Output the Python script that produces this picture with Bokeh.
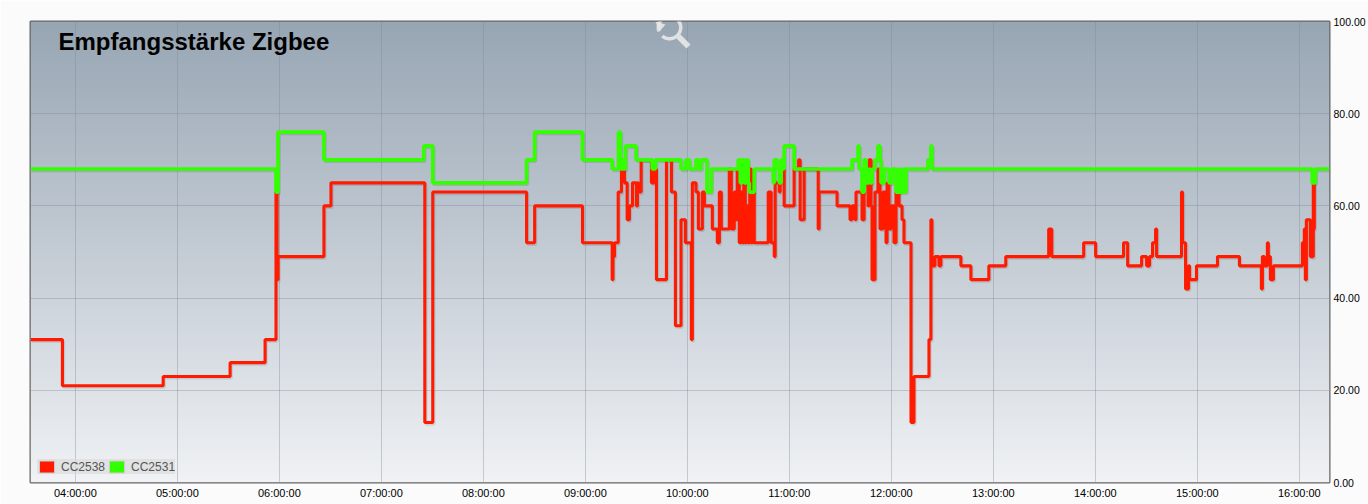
import numpy as np
from bokeh.embed import file_html
from bokeh.resources import INLINE
from bokeh.plotting import figure
from bokeh.models import (ColumnDataSource, FixedTicker, Label, Legend, LegendItem,
                          NumeralTickFormatter, PolyAnnotation, Range1d)
from bokeh.transform import dodge

TITLE = "Empfangsstärke Zigbee"
SERIES_A = "CC2538"
SERIES_B = "CC2531"

hour_ticks = list(range(4, 17))
hour_labels = ["%02d:00:00" % h for h in hour_ticks]
value_ticks = [0, 20, 40, 60, 80, 100]

t_red = [3.56, 3.873, 4.861, 5.517, 5.860, 5.967, 5.977, 5.987, 6.437, 6.506, 7.426, 7.504, 8.424, 8.503, 8.972,
         9.263, 9.271, 9.286, 9.295, 9.322, 9.354, 9.383, 9.410, 9.432, 9.462, 9.501, 9.511, 9.520, 9.547,
         9.648, 9.677, 9.697, 9.795, 9.844, 9.883, 9.938, 9.981, 10.039, 10.049, 10.085, 10.108, 10.147,
         10.167, 10.245, 10.294, 10.314, 10.333, 10.352, 10.411, 10.431, 10.460, 10.480, 10.489, 10.509,
         10.524, 10.539, 10.553, 10.568, 10.582, 10.597, 10.612, 10.627, 10.636, 10.656, 10.793, 10.822,
         10.852, 10.861, 10.901, 10.910, 10.949, 11.047, 11.091, 11.106, 11.145, 11.283, 11.292, 11.468,
         11.595, 11.615, 11.645, 11.654, 11.713, 11.733, 11.772, 11.781, 11.801, 11.811, 11.840, 11.869,
         11.889, 11.918, 11.948, 11.958, 11.977, 11.997, 12.026, 12.046, 12.075, 12.105, 12.124, 12.193,
         12.222, 12.369, 12.388, 12.398, 12.428, 12.467, 12.486, 12.682, 12.780, 12.956, 13.122, 13.543,
         13.573, 13.886, 14.003, 14.277, 14.317, 14.454, 14.503, 14.532, 14.561, 14.591, 14.601, 14.845,
         14.855, 14.885, 14.914, 14.924, 14.992, 15.198, 15.413, 15.628, 15.638, 15.657, 15.687, 15.696,
         15.716, 15.746, 16.030, 16.049, 16.059, 16.069, 16.108, 16.137, 16.147, 16.157]
v_red = [31, 21, 23, 26, 31, 63, 44, 49, 60, 65, 13, 63, 52, 60, 52,
         44, 49, 52, 52, 63, 68, 65, 57, 60, 65, 60, 65, 63, 70,
         65, 68, 44, 70, 63, 34, 57, 52, 31, 65, 63, 55, 63,
         60, 55, 52, 63, 55, 55, 68, 55, 63, 57, 68, 52,
         63, 52, 65, 52, 60, 52, 68, 52, 63, 52, 63, 52,
         49, 65, 63, 68, 60, 68, 70, 57, 68, 55, 63, 60,
         57, 60, 57, 63, 57, 65, 60, 70, 60, 44, 63, 68,
         55, 63, 52, 65, 55, 60, 52, 63, 60, 57, 52, 13,
         23, 31, 57, 47, 49, 47, 49, 47, 44, 47, 49, 55,
         49, 52, 49, 52, 47, 49, 47, 49, 52, 55, 49, 63,
         52, 42, 47, 44, 47, 49, 47, 42, 49, 47, 52, 49,
         44, 47, 52, 55, 44, 57, 49, 65, 55, 55]

t_green = [3.56, 5.967, 5.987, 6.437, 7.416, 7.504, 8.424, 8.503, 8.972, 9.263, 9.325, 9.344, 9.364, 9.374,
           9.393, 9.498, 9.655, 9.687, 9.938, 9.987, 10.020, 10.085, 10.108, 10.134, 10.193, 10.235, 10.499,
           10.519, 10.539, 10.558, 10.578, 10.597, 10.607, 10.656, 10.842, 10.852, 10.881, 10.901, 10.920,
           10.940, 10.949, 11.047, 11.615, 11.674, 11.684, 11.713, 11.733, 11.752, 11.781, 11.791, 11.811,
           11.840, 11.869, 11.889, 11.899, 11.928, 11.977, 12.007, 12.046, 12.066, 12.075, 12.095, 12.105,
           12.124, 12.134, 12.144, 12.359, 12.388, 12.398, 16.127, 16.157, 16.296]
v_green = [68, 63, 76, 70, 73, 65, 70, 76, 70, 68, 76, 68, 70, 68,
           73, 70, 68, 70, 68, 70, 68, 70, 68, 70, 63, 68, 70,
           65, 70, 65, 70, 65, 63, 68, 65, 70, 68, 65, 70,
           68, 73, 68, 70, 73, 68, 63, 70, 65, 68, 65, 68,
           70, 73, 70, 65, 68, 65, 68, 63, 68, 63, 68, 63,
           68, 63, 68, 70, 73, 68, 65, 68, 68]

RED = "#FF1A00"
GREEN = "#33FF00"
W, H = 1368, 504

p = figure(width=W, height=H, output_backend="svg", toolbar_location=None,
           x_range=Range1d(t_red[0], t_green[-1]), y_range=Range1d(0, 100),
           y_axis_location="right",
           min_border_left=30, min_border_right=37, min_border_top=21, min_border_bottom=22)

# background gradient of the plotting area
top, bottom = np.array([152, 166, 180]), np.array([240, 242, 245])
rows = 128
rgba = np.zeros((rows, 1), dtype=np.uint32)
view = rgba.view(np.uint8).reshape(rows, 1, 4)
for i in range(rows):
    c = bottom + (top - bottom) * i / (rows - 1)
    view[i, 0] = [int(c[0]), int(c[1]), int(c[2]), 255]
p.image_rgba(image=[rgba], x=t_red[0], y=0, dw=t_green[-1] - t_red[0], dh=100, level="image")

p.outline_line_color = "#666666"
p.outline_line_width = 2
p.background_fill_color = "#dfe3e8"
p.border_fill_color = "#fbfbfb"

for ax in (p.xaxis[0], p.yaxis[0]):
    ax.axis_line_color = None
    ax.major_tick_line_color = None
    ax.minor_tick_line_color = None
    ax.major_tick_out = 0
    ax.major_tick_in = 0
    ax.minor_tick_out = 0
    ax.minor_tick_in = 0
    ax.major_label_text_color = "#000000"
    ax.major_label_text_font = "Liberation Sans"

p.xaxis[0].ticker = FixedTicker(ticks=hour_ticks)
p.xaxis[0].major_label_overrides = dict(zip(hour_ticks, hour_labels))
p.xaxis[0].major_label_text_font_size = "11px"
p.xaxis[0].major_label_standoff = 4
p.yaxis[0].ticker = FixedTicker(ticks=value_ticks)
p.yaxis[0].formatter = NumeralTickFormatter(format="0.00")
p.yaxis[0].major_label_text_font_size = "10.5px"
p.yaxis[0].major_label_standoff = 4

p.xgrid[0].ticker = FixedTicker(ticks=hour_ticks)
p.ygrid[0].ticker = FixedTicker(ticks=value_ticks)
for g in (p.xgrid[0], p.ygrid[0]):
    g.grid_line_color = "#7f8a94"
    g.grid_line_alpha = 0.38
    g.grid_line_width = 1

src_red = ColumnDataSource(dict(t=t_red, v=v_red))
src_green = ColumnDataSource(dict(t=t_green, v=v_green))

for src in (src_red, src_green):
    p.step(x=dodge("t", 0.012), y=dodge("v", -0.35), source=src, mode="after",
           line_color="#000000", line_alpha=0.1, line_width=3)
p.step("t", "v", source=src_red, mode="after", line_color=RED, line_width=3.1)
p.step("t", "v", source=src_green, mode="after", line_color=GREEN, line_width=3.7)

# legend
empty = ColumnDataSource(dict(x=[float("nan")], y=[float("nan")]))
sw_a = p.vbar(x="x", top="y", width=1, source=empty, fill_color=RED, line_color="#cfcfcf", line_width=1)
sw_b = p.vbar(x="x", top="y", width=1, source=empty, fill_color=GREEN, line_color="#cfcfcf", line_width=1)
legend = Legend(items=[LegendItem(label=SERIES_A, renderers=[sw_a], index=0),
                       LegendItem(label=SERIES_B, renderers=[sw_b], index=0)],
                orientation="horizontal", location=(7, 8),
                background_fill_color="#d9d9d9", background_fill_alpha=0.6,
                border_line_color=None, label_text_font="Liberation Sans",
                label_text_font_size="12px", label_text_color="#555555",
                glyph_width=19, glyph_height=15, padding=3, spacing=2, margin=0,
                label_standoff=5)
p.add_layout(legend, "center")

p.add_layout(Label(x=28, y=441, x_units="screen", y_units="screen", text=TITLE,
                   text_font="Liberation Sans", text_font_style="bold", text_font_size="24px",
                   text_baseline="alphabetic", text_color="#000000"))

# zoom-reset icon, part of the frame's overlay
ICON = "#e8e8e8"
ang = np.linspace(np.radians(-200), np.radians(130), 40)
cx, cy = 669, 27
ring_x = np.r_[cx + 13 * np.cos(ang), cx + 9.5 * np.cos(ang[::-1])]
ring_y = np.r_[cy + 13 * np.sin(ang), cy + 9.5 * np.sin(ang[::-1])]
for xs, ys in [
    (ring_x, ring_y),
    ([676, 680, 690, 686], [38, 34, 44, 48]),
    ([655, 665, 659], [21, 24, 31]),
]:
    p.add_layout(PolyAnnotation(xs=[float(a) for a in xs], ys=[float(a) for a in ys],
                                xs_units="canvas", ys_units="canvas",
                                fill_color=ICON, fill_alpha=0.9, line_color=None, level="overlay"))

open("out.html", "w").write(file_html(p, INLINE))
